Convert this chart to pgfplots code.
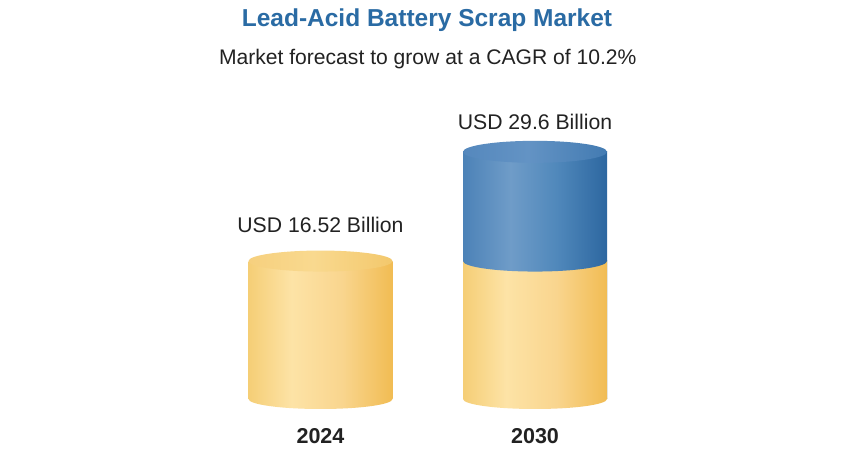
\documentclass[border=0pt]{standalone}
\usepackage{pgfplots}
\pgfplotsset{compat=1.18}
\usepackage{fontspec}
\setmainfont{Liberation Sans}
\definecolor{titleblue}{HTML}{2A6BA4}
\definecolor{txt}{HTML}{222222}
\definecolor{ya}{HTML}{F5CE76}
\definecolor{yb}{HTML}{FDE3A6}
\definecolor{yc}{HTML}{F9D58E}
\definecolor{yd}{HTML}{F1BC53}
\definecolor{yta}{HTML}{F6D07E}
\definecolor{ytb}{HTML}{F9D98F}
\definecolor{ytc}{HTML}{F3C86C}
\definecolor{ba}{HTML}{4C82B7}
\definecolor{bb}{HTML}{6F9CC8}
\definecolor{bc}{HTML}{5088BB}
\definecolor{bd}{HTML}{2D67A0}
\definecolor{bta}{HTML}{5588BD}
\definecolor{btb}{HTML}{6393C4}
\definecolor{btc}{HTML}{437BB2}
% the central 25bp..75bp band is stretched over the shaded path
\pgfdeclarehorizontalshading{yellowcyl}{100bp}{color(0bp)=(ya); color(25bp)=(ya); color(40bp)=(yb); color(57.5bp)=(yc); color(75bp)=(yd); color(100bp)=(yd)}
\pgfdeclarehorizontalshading{yellowtop}{100bp}{color(0bp)=(yta); color(25bp)=(yta); color(47.5bp)=(ytb); color(75bp)=(ytc); color(100bp)=(ytc)}
\pgfdeclarehorizontalshading{bluecyl}{100bp}{color(0bp)=(ba); color(25bp)=(ba); color(41.5bp)=(bb); color(57.5bp)=(bc); color(75bp)=(bd); color(100bp)=(bd)}
\pgfdeclarehorizontalshading{bluetop}{100bp}{color(0bp)=(bta); color(25bp)=(bta); color(47.5bp)=(btb); color(75bp)=(btc); color(100bp)=(btc)}
% lower half ellipse (bottom rim of a cylinder section)
\pgfdeclareplotmark{ybot}{%
  \pgfpathmoveto{\pgfqpoint{-72bp}{1bp}}%
  \pgfpathlineto{\pgfqpoint{-72bp}{0bp}}%
  \pgfpatharc{180}{360}{72bp and 10bp}%
  \pgfpathlineto{\pgfqpoint{72bp}{1bp}}%
  \pgfpathclose
  \pgfshadepath{yellowcyl}{0}%
  \pgfusepath{discard}}
\pgfdeclareplotmark{bbot}{%
  \pgfpathmoveto{\pgfqpoint{-72bp}{1bp}}%
  \pgfpathlineto{\pgfqpoint{-72bp}{0bp}}%
  \pgfpatharc{180}{360}{72bp and 10.5bp}%
  \pgfpathlineto{\pgfqpoint{72bp}{1bp}}%
  \pgfpathclose
  \pgfshadepath{bluecyl}{0}%
  \pgfusepath{discard}}
% top faces
\pgfdeclareplotmark{ytop}{%
  \pgfpathellipse{\pgfpointorigin}{\pgfqpoint{72bp}{0bp}}{\pgfqpoint{0bp}{10.5bp}}%
  \pgfshadepath{yellowtop}{0}%
  \pgfusepath{discard}}
\pgfdeclareplotmark{btop}{%
  \pgfpathellipse{\pgfpointorigin}{\pgfqpoint{72bp}{0bp}}{\pgfqpoint{0bp}{11bp}}%
  \pgfshadepath{bluetop}{0}%
  \pgfusepath{discard}}
\begin{document}
\begin{tikzpicture}
\path[use as bounding box] (0,0) rectangle (856bp,454bp);
\fill[white] (0,0) rectangle (856bp,454bp);
\begin{axis}[
  at={(0,0)}, anchor=south west,
  scale only axis, width=856bp, height=454bp,
  xmin=-1.49417, xmax=2.49650,
  ymin=-6.587, ymax=47.784,
  hide axis, clip=false,
  cyl/.style={ybar, bar width=144bp, bar shift=0pt, draw=none, shade},
]
% 2030 total (blue section visible above 2024 level)
\addplot[cyl, shading=bluecyl] coordinates {(1,29.6)};
% base-year level, one plot per column so each bar gets its own shading
\addplot[cyl, shading=yellowcyl] coordinates {(0,16.52)};
\addplot[cyl, shading=yellowcyl] coordinates {(1,16.52)};
\addplot[only marks, mark=ybot] coordinates {(0,0) (1,0)};
\addplot[only marks, mark=ytop] coordinates {(0,16.52)};
\addplot[only marks, mark=bbot] coordinates {(1,16.52)};
\addplot[only marks, mark=btop] coordinates {(1,29.6)};
% texts
\node[anchor=base, text=titleblue, font=\fontsize{24.5bp}{29bp}\selectfont\bfseries] at (axis cs:0.4965,44.55) {Lead-Acid Battery Scrap Market};
\node[anchor=base, text=txt, font=\fontsize{21.1bp}{25bp}\selectfont] at (axis cs:0.5,40.0) {Market forecast to grow at a CAGR of 10.2\%};
\node[anchor=base, text=txt, font=\fontsize{21.2bp}{25bp}\selectfont] at (axis cs:0,19.88) {USD 16.52 Billion};
\node[anchor=base, text=txt, font=\fontsize{21.2bp}{25bp}\selectfont] at (axis cs:1,32.30) {USD 29.6 Billion};
\node[anchor=base, text=txt, font=\fontsize{21.5bp}{25bp}\selectfont\bfseries] at (axis cs:0,-5.27) {2024};
\node[anchor=base, text=txt, font=\fontsize{21.5bp}{25bp}\selectfont\bfseries] at (axis cs:1,-5.27) {2030};
\end{axis}
\end{tikzpicture}
\end{document}
